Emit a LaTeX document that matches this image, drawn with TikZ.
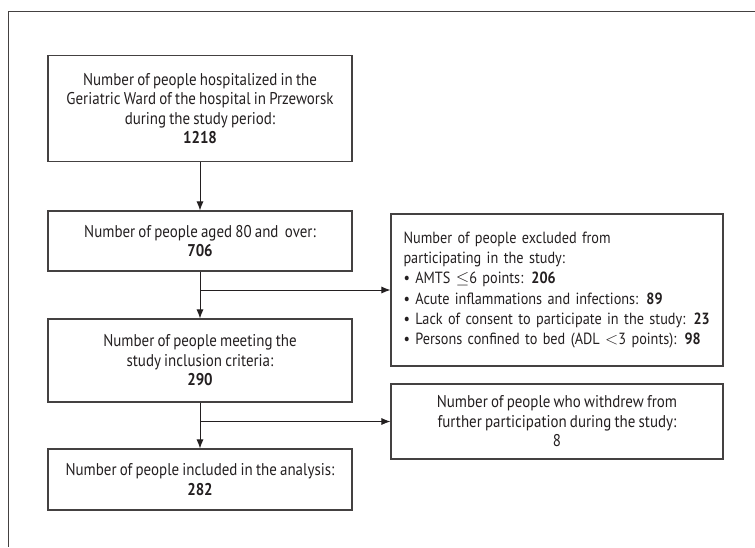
\documentclass[tikz,border=0pt]{standalone}
\usepackage{fontspec}
\setmainfont{PT Sans}[FakeStretch=0.88, WordSpace=0.8]
\usetikzlibrary{arrows.meta}
\definecolor{ink}{HTML}{231F20}
\tikzset{
  box/.style={draw=ink!85, line width=1.1pt, text=ink, align=center,
    minimum width=304pt, inner sep=0pt,
    font=\fontsize{17}{19.5}\selectfont},
  sidebox/.style={box, minimum width=332pt},
  flow/.style={draw=ink, line width=0.9pt},
  arr/.style={flow, -{Latex[length=9pt,width=7pt]}}
}
\begin{document}
\begin{tikzpicture}[x=1pt, y=-1pt]
    \useasboundingbox (0,0) rectangle (755,547);
    \draw[draw=ink!85, line width=1pt] (755,11) -| (8,547);
    \node[box, minimum height=106pt] (b1) at (200,108.5)
      {Number of people hospitalized in the\\Geriatric Ward of the hospital in Przeworsk\\during the study period:\\\textbf{1218}};
    \node[box, minimum height=60pt] (b2) at (200,241)
      {Number of people aged 80 and \ over:\\\textbf{706}};
    \node[box, minimum height=83pt] (b3) at (200,360.5)
      {Number of people meeting the\\study inclusion criteria:\\\textbf{290}};
    \node[box, minimum height=61pt] (b4) at (200,479.5)
      {Number of people included in the analysis:\\\textbf{282}};
    \node[sidebox, minimum height=152pt, align=left, text width=307pt,
      inner xsep=12.5pt, font=\fontsize{16.2}{20.2}\selectfont] (e1) at (557,290)
      {\mbox{Number of people excluded from}\\\mbox{participating in the study:}\\%
       \mbox{\textbullet\ AMTS $\leq$6 points: \textbf{206}}\\%
       \mbox{\textbullet\ Acute inflammations and infections: \textbf{89}}\\%
       \mbox{\textbullet\ Lack of consent to participate in the study: \textbf{23}}\\%
       \mbox{\textbullet\ Persons confined to bed (ADL $<$3 points): \textbf{98}}};
    \node[sidebox, minimum height=75pt] (e2) at (557,421.5)
      {Number of people who withdrew from\\further participation during the study:\\8};
    \coordinate (j1) at (200,290);
    \coordinate (j2) at (200,421.5);
    \draw[arr] (b1) -- (b2);
    \draw[arr] (b2) -- (b3);
    \draw[arr] (j1) -- (e1);
    \draw[arr] (b3) -- (b4);
    \draw[arr] (j2) -- (e2);
\end{tikzpicture}
\end{document}
